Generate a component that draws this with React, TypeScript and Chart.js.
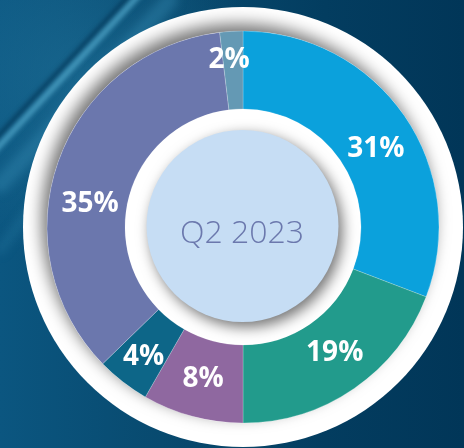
import { useEffect, useRef } from "react";
import { Chart, registerables } from "chart.js";

Chart.register(...registerables);

// ---- data ----
const categories = ["Segment 1", "Segment 2", "Segment 3", "Segment 4", "Segment 5", "Segment 6"];
const shares = [30.8, 19.2, 8.3, 4.4, 35.4, 1.9];
const shareLabels = ["31%", "19%", "8%", "4%", "35%", "2%"];
const centerLabel = "Q2 2023";

// ---- styles ----
const segmentColors = ["#0ba1dc", "#229b8c", "#8f68a0", "#0d6688", "#6b77ad", "#6499b4"];
const labelAngleNudge = [3.5, -2, 0, 0, -10, -1.3];
const labelRadiusNudge = [-2, -3, -2, 5, -2, 13];

const W = 464;
const H = 448;

const backgroundPlugin = {
  id: "bgPlugin",
  beforeDraw(chart: any) {
    const ctx = chart.ctx as CanvasRenderingContext2D;
    ctx.save();
    const g = ctx.createLinearGradient(0, 0, W, 0);
    g.addColorStop(0, "#0b5680");
    g.addColorStop(0.35, "#084a6f");
    g.addColorStop(0.7, "#033d60");
    g.addColorStop(1, "#013658");
    ctx.fillStyle = g;
    ctx.fillRect(0, 0, W, H);
    // top-left glow
    const rg = ctx.createRadialGradient(80, 80, 0, 80, 80, 180);
    rg.addColorStop(0, "rgba(40,125,165,0.45)");
    rg.addColorStop(1, "rgba(40,125,165,0)");
    ctx.fillStyle = rg;
    ctx.fillRect(0, 0, W, H);
    // streaks
    ctx.lineCap = "round";
    ctx.filter = "blur(2px)";
    ctx.strokeStyle = "rgba(4,55,88,0.7)";
    ctx.lineWidth = 5;
    ctx.beginPath();
    ctx.moveTo(-10, 145);
    ctx.lineTo(133, -8);
    ctx.stroke();
    ctx.strokeStyle = "rgba(80,165,200,0.75)";
    ctx.lineWidth = 6;
    ctx.beginPath();
    ctx.moveTo(-10, 156);
    ctx.lineTo(140, -6);
    ctx.stroke();
    ctx.filter = "blur(5px)";
    ctx.strokeStyle = "rgba(50,135,175,0.45)";
    ctx.lineWidth = 16;
    ctx.beginPath();
    ctx.moveTo(0, 185);
    ctx.lineTo(170, 0);
    ctx.stroke();
    ctx.strokeStyle = "rgba(50,135,175,0.3)";
    ctx.lineWidth = 8;
    ctx.beginPath();
    ctx.moveTo(0, 250);
    ctx.lineTo(60, 170);
    ctx.stroke();
    ctx.filter = "none";
    ctx.restore();
  },
};

const ringPlugin = {
  id: "ringPlugin",
  beforeDatasetsDraw(chart: any) {
    const ctx = chart.ctx as CanvasRenderingContext2D;
    const arc = chart.getDatasetMeta(0).data[0];
    if (!arc) return;
    const { x, y, outerRadius } = arc.getProps(["x", "y", "outerRadius"], true);
    const ringR = outerRadius + 24;
    ctx.save();
    ctx.beginPath();
    ctx.arc(x, y, ringR, 0, Math.PI * 2);
    ctx.fillStyle = "#ffffff";
    ctx.fill();
    ctx.clip();
    ctx.shadowColor = "rgba(0,0,0,0.55)";
    ctx.shadowBlur = 16;
    ctx.shadowOffsetX = -5;
    ctx.shadowOffsetY = -7;
    ctx.beginPath();
    ctx.arc(x, y, outerRadius, 0, Math.PI * 2);
    ctx.fillStyle = "#ffffff";
    ctx.fill();
    ctx.restore();
  },
  afterDatasetsDraw(chart: any) {
    const ctx = chart.ctx as CanvasRenderingContext2D;
    const meta = chart.getDatasetMeta(0);
    const first = meta.data[0];
    if (!first) return;
    const { x, y, innerRadius } = first.getProps(["x", "y", "innerRadius"], true);
    // inner disc with drop shadow
    ctx.save();
    ctx.beginPath();
    ctx.arc(x, y, innerRadius - 0.5, 0, Math.PI * 2);
    ctx.fillStyle = "#ffffff";
    ctx.fill();
    ctx.clip();
    ctx.shadowColor = "rgba(0,0,0,0.55)";
    ctx.shadowBlur = 14;
    ctx.shadowOffsetX = 4;
    ctx.shadowOffsetY = 5;
    ctx.beginPath();
    ctx.arc(x - 0.5, y - 1, innerRadius - 22, 0, Math.PI * 2);
    ctx.fillStyle = "#c6ddf4";
    ctx.fill();
    ctx.restore();

    // center text
    ctx.save();
    ctx.fillStyle = "#6b78ad";
    ctx.font = '300 32px "Open Sans"';
    ctx.textAlign = "center";
    ctx.textBaseline = "alphabetic";
    ctx.fillText(centerLabel, x - 1, y + 16);
    ctx.restore();

    // segment labels
    ctx.save();
    ctx.fillStyle = "#ffffff";
    const size = 28;
    ctx.font = `bold ${size}px "Open Sans"`;
    ctx.textAlign = "center";
    ctx.textBaseline = "alphabetic";
    meta.data.forEach((el: any, i: number) => {
      const p = el.getProps(["x", "y", "startAngle", "endAngle", "innerRadius", "outerRadius"], true);
      const mid = (p.startAngle + p.endAngle) / 2 + (labelAngleNudge[i] * Math.PI) / 180;
      const r = (p.innerRadius + p.outerRadius) / 2 + labelRadiusNudge[i];
      const lx = p.x + r * Math.cos(mid);
      const ly = p.y + r * Math.sin(mid);
      ctx.fillText(shareLabels[i], lx, ly + (size * 0.714) / 2);
    });
    ctx.restore();
  },
};

export default function App() {
  const ref = useRef<HTMLCanvasElement | null>(null);
  useEffect(() => {
    document.body.style.margin = "0";
    if (!ref.current) return;
    const chart = new Chart(ref.current, {
      type: "doughnut",
      data: {
        labels: categories,
        datasets: [
          {
            data: shares,
            backgroundColor: segmentColors,
            borderColor: "rgba(255,255,255,0.35)",
            borderWidth: 0.6,
            hoverOffset: 0,
          },
        ],
      },
      options: {
        responsive: false,
        animation: false,
        radius: 196,
        cutout: "60.2%",
        layout: { padding: { left: 47, right: 25, top: 31, bottom: 25 } },
        plugins: {
          legend: { display: false },
          tooltip: { enabled: false },
        },
      },
      plugins: [backgroundPlugin, ringPlugin],
    } as any);
    return () => chart.destroy();
  }, []);
  return (
    <div style={{ width: W, height: H }}>
      <canvas ref={ref} width={W} height={H} style={{ display: "block", width: W, height: H }} />
    </div>
  );
}
